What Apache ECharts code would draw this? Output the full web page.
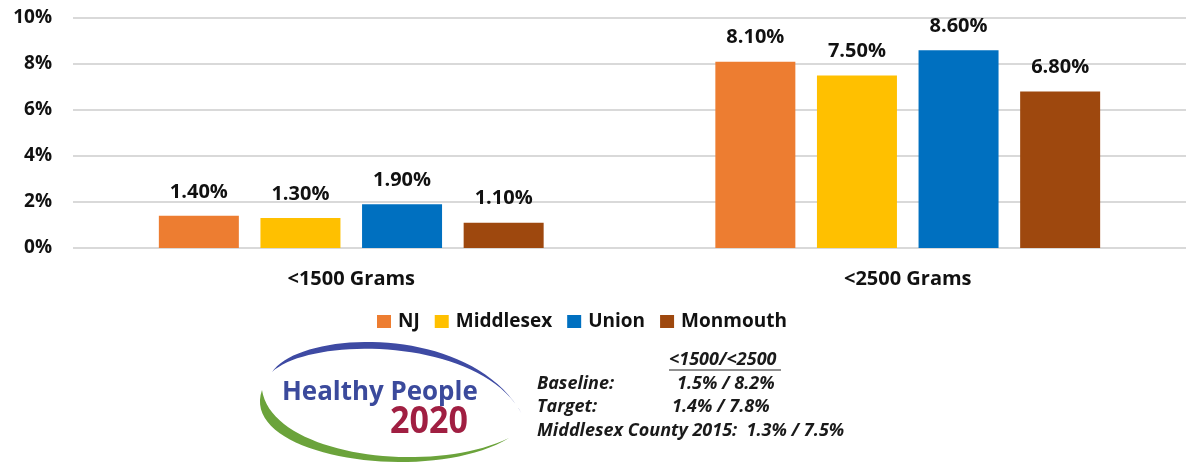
<!DOCTYPE html>
<html>
<head>
<meta charset="utf-8">
<script src="https://cdn.jsdelivr.net/npm/echarts@6/dist/echarts.min.js"></script>
<style>
  html, body { margin: 0; padding: 0; background: #fff; }
  #chart { width: 1188px; height: 466px; }
</style>
</head>
<body>
<div id="chart"></div>
<script>
// categories and values (percent)
const categories = ['<1500 Grams', '<2500 Grams']
const seriesNames = ['NJ', 'Middlesex', 'Union', 'Monmouth']
const njVals = [1.4, 8.1]
const middlesexVals = [1.3, 7.5]
const unionVals = [1.9, 8.6]
const monmouthVals = [1.1, 6.8]
const colors = ['#ED7D31', '#FFC000', '#0070C0', '#9E480E']

const font = '"Open Sans", "Liberation Sans", sans-serif'

const makeSeries = (name, data, color) => ({
  name: name,
  type: 'bar',
  data: data,
  barWidth: 80,
  barGap: '27%',
  itemStyle: { color: color },
  label: {
    show: true,
    position: 'top',
    distance: 14,
    formatter: (p) => p.value.toFixed(2) + '%',
    color: '#111',
    fontFamily: font,
    fontWeight: 'bold',
    fontSize: 20
  }
})

// crescent outline for the logo: outer cubic there, inner cubic back
const cubic = (p0, p1, p2, p3, n) => {
  const pts = []
  for (let i = 0; i <= n; i++) {
    const t = i / n
    const u = 1 - t
    pts.push([
      u * u * u * p0[0] + 3 * u * u * t * p1[0] + 3 * u * t * t * p2[0] + t * t * t * p3[0],
      u * u * u * p0[1] + 3 * u * u * t * p1[1] + 3 * u * t * t * p2[1] + t * t * t * p3[1]
    ])
  }
  return pts
}
const crescent = (a, b) => cubic(...a, 40).concat(cubic(...b, 40))

const blueArc = crescent(
  [[272, 372], [300, 330], [470, 322], [522, 414]],
  [[522, 414], [480, 336], [310, 336], [272, 372]]
)
const greenArc = crescent(
  [[262, 390], [238, 458], [430, 486], [509, 438]],
  [[509, 438], [430, 476], [272, 456], [262, 390]]
)

const note = (text, x, y) => ({
  type: 'text',
  left: x,
  top: y,
  style: { text: text, fill: '#1a1a1a', font: 'italic bold 18px ' + font }
})

const chart = echarts.init(document.getElementById('chart'))
chart.setOption({
  animation: false,
  grid: { left: 73, right: 2, top: 18, bottom: 218 },
  legend: {
    data: seriesNames,
    left: 372,
    top: 307,
    itemWidth: 14,
    itemHeight: 13,
    itemGap: 15,
    icon: 'rect',
    textStyle: { color: '#111', fontFamily: font, fontWeight: 'bold', fontSize: 19, padding: [0, 0, 0, 2] }
  },
  xAxis: {
    type: 'category',
    data: categories,
    axisLine: { show: false },
    axisTick: { show: false },
    axisLabel: {
      margin: 21,
      color: '#111',
      fontFamily: font,
      fontWeight: 'bold',
      fontSize: 20
    }
  },
  yAxis: {
    type: 'value',
    min: 0,
    max: 10,
    interval: 2,
    axisLine: { show: false },
    axisTick: { show: false },
    splitLine: { lineStyle: { color: '#d9d9d9', width: 2 } },
    axisLabel: {
      margin: 21,
      formatter: '{value}%',
      color: '#111',
      fontFamily: font,
      fontWeight: 'bold',
      fontSize: 19
    }
  },
  series: [
    makeSeries(seriesNames[0], njVals, colors[0]),
    makeSeries(seriesNames[1], middlesexVals, colors[1]),
    makeSeries(seriesNames[2], unionVals, colors[2]),
    makeSeries(seriesNames[3], monmouthVals, colors[3])
  ],
  graphic: [
    // Healthy People 2020 logo
    { type: 'polygon', shape: { points: blueArc }, style: { fill: '#3E4AA3' } },
    { type: 'polygon', shape: { points: greenArc }, style: { fill: '#6BA33B' } },
    {
      type: 'text',
      x: 282,
      y: 379,
      scaleX: 0.96,
      style: { text: 'Healthy People', fill: '#3B4A9C', font: 'bold 27px ' + font }
    },
    {
      type: 'text',
      x: 390,
      y: 404,
      scaleX: 0.92,
      style: { text: '2020', fill: '#A01F42', font: 'bold 37px ' + font }
    },
    // notes
    note('<1500/<2500', 669, 351),
    {
      type: 'line',
      shape: { x1: 669, y1: 370, x2: 781, y2: 370 },
      style: { stroke: '#222', lineWidth: 1 }
    },
    note('Baseline:', 537, 375),
    note('1.5% / 8.2%', 677, 375),
    note('Target:', 537, 398),
    note('1.4% / 7.8%', 672, 398),
    note('Middlesex County 2015:  1.3% / 7.5%', 537, 422)
  ]
})
</script>
</body>
</html>
